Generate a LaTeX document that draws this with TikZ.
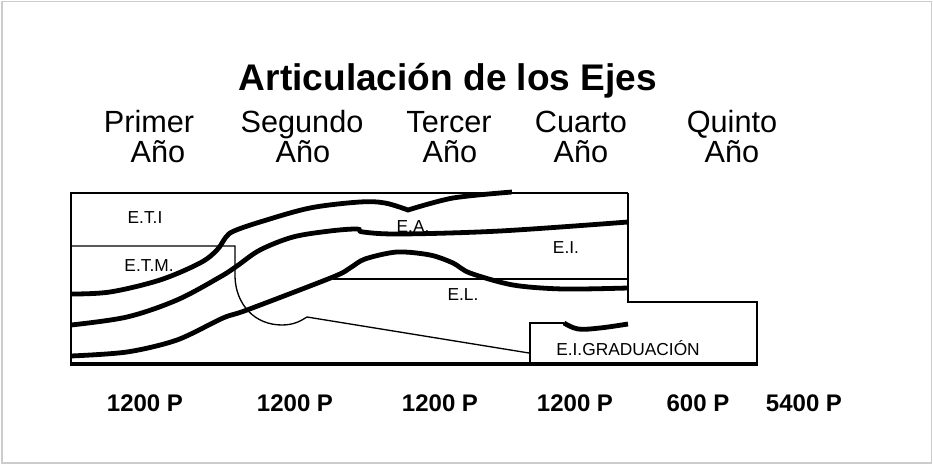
\documentclass[tikz,border=0pt]{standalone}
\usepackage{fontspec}
\setmainfont{Liberation Sans}
\begin{document}
\begin{tikzpicture}[x=0.75pt,y=-0.75pt,
  thickcurve/.style={line width=3.6pt,line cap=butt},
  thinline/.style={line width=1pt},
  frameline/.style={line width=1.5pt},
  bottomline/.style={line width=2.3pt},
  title/.style={font=\bfseries\fontsize{27.8}{30}\selectfont,anchor=base,inner sep=0pt},
  year/.style={font=\fontsize{23}{26}\selectfont,anchor=base,inner sep=0pt},
  lab/.style={font=\fontsize{13}{15}\selectfont,anchor=base,inner sep=0pt},
  hours/.style={font=\bfseries\fontsize{18}{20}\selectfont,anchor=base,inner sep=0pt}]
\useasboundingbox (0,0) rectangle (933,464);
\draw[line width=1.1pt,draw=black!20] (2,1.5) rectangle (931.5,463);

\node[title] (t) at (448,90) {Articulación de los Ejes};
\node[year] (y1a) at (149,132) {Primer};
\node[year] (y1b) at (158,162) {Año};
\node[year] (y2a) at (302,132) {Segundo};
\node[year] (y2b) at (303,162) {Año};
\node[year] (y3a) at (449,132) {Tercer};
\node[year] (y3b) at (450,162) {Año};
\node[year] (y4a) at (581,132) {Cuarto};
\node[year] (y4b) at (581,162) {Año};
\node[year] (y5a) at (732,132) {Quinto};
\node[year] (y5b) at (732,162) {Año};

% frame
\draw[frameline] (628,193) -- (71,193) -- (71,364);
\draw[bottomline] (70,364) -- (758,364);
\draw[thinline] (628,193) -- (628,302) -- (757,302) -- (757,364);
% E.T.M. box and lower curve
\draw[thinline] (71,246) -- (235,246) -- (235,277)
  .. controls (236,305) and (255,325) .. (282,325)
  .. controls (295,325) and (302,320) .. (307,317) -- (529,353);
% E.I.GRADUACION box
\draw[thinline] (530,364) -- (530,323) -- (564,323);
% E.L. line
\draw[thinline] (333,279) -- (628,279);

% thick curves
\draw[thickcurve] plot[smooth,tension=0.55] coordinates {(71,294) (110,292) (160,280) (200,263) (217,250) (226,237) (234,231) (260,222) (310,208) (360,202) (385,203) (408,210)}
  -- plot[smooth,tension=0.5] coordinates {(408,210) (453,198) (512,192)};
\draw[thickcurve] plot[smooth,tension=0.55] coordinates {(71,325) (127,317) (177,300) (220,277) (237,266) (260,250) (293,237) (330,231) (357,229) (363,232) (400,234) (500,231) (628,222)};
\draw[thickcurve] plot[smooth,tension=0.5] coordinates {(71,356) (127,352) (177,340) (223,318) (247,310) (333,277) (350,268) (365,259) (397,252) (430,255) (453,263) (470,273) (513,285) (563,289) (628,288)};
\draw[thickcurve] plot[smooth,tension=0.6] coordinates {(564,323) (578,329) (600,328) (628,324)};

% labels
\node[lab] (eti) at (145,223) {E.T.I};
\node[lab] (etm) at (149,271) {E.T.M.};
\node[lab] (ea) at (413,232) {E.A.};
\node[lab] (ei) at (566,253) {E.I.};
\node[lab] (el) at (463,300) {E.L.};
\node[lab] (eig) at (628,355) {E.I.GRADUACIÓN};

\node[hours] (h1) at (145,411) {1200 P};
\node[hours] (h2) at (295,411) {1200 P};
\node[hours] (h3) at (440,411) {1200 P};
\node[hours] (h4) at (575,411) {1200 P};
\node[hours] (h5) at (698,411) {600 P};
\node[hours] (h6) at (804,411) {5400 P};
\end{tikzpicture}
\end{document}
